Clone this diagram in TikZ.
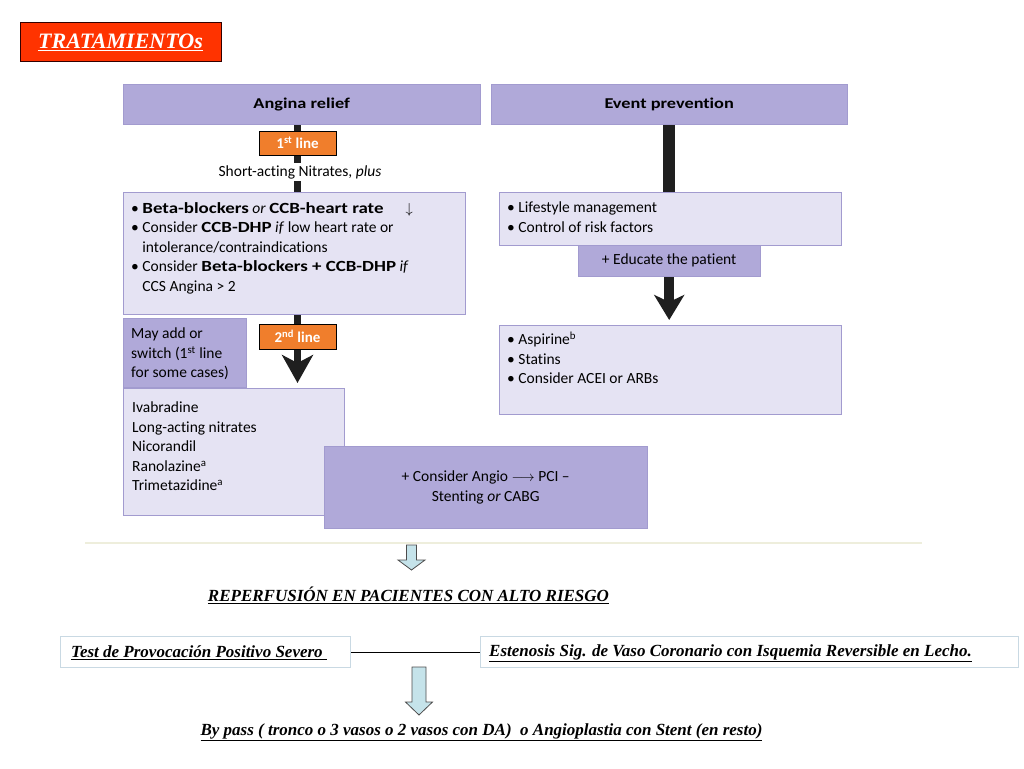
\documentclass[tikz,border=0pt]{standalone}
\usepackage{fontspec}
\setmainfont{Carlito}[Ligatures=CommonOff, BoldFeatures={FakeStretch=1.22}]
\newfontfamily\lbfont{Carlito}
\newfontfamily\timesfont{Liberation Serif}
\usetikzlibrary{positioning}
\usetikzlibrary{arrows.meta}
\usetikzlibrary{backgrounds}
\definecolor{hdrpurple}{HTML}{B0A9D9}
\definecolor{lightpurple}{HTML}{E5E3F3}
\definecolor{edgepurple}{HTML}{A29BCF}
\definecolor{lineorange}{HTML}{F07E2C}
\definecolor{titlered}{HTML}{FF3300}
\definecolor{arrowblue}{HTML}{C5E3EA}
\definecolor{boxgray}{HTML}{C9D9E3}
\definecolor{rulebeige}{HTML}{EEEEDC}
\tikzset{
  hdr/.style={draw=edgepurple, fill=hdrpurple, anchor=north west, inner sep=0pt},
  panel/.style={draw=edgepurple, fill=lightpurple, anchor=north west, inner sep=0pt},
  linebox/.style={draw=black, fill=lineorange, text=white, minimum width=77pt,
    minimum height=24pt, inner sep=0pt, font=\lbfont\fontsize{15}{18}\selectfont\bfseries},
  txt/.style={font=\fontsize{15.5}{19.5}\selectfont, align=left, anchor=north west, inner sep=0pt},
  bar/.style={line width=7pt, black!88},
  fatarrow/.style={line width=7pt, black!88, -{Stealth[width=31pt,length=28pt,inset=8pt]}},
  hollow/.style={draw=black!70, fill=arrowblue, line width=0.8pt},
  test/.style={draw=boxgray, fill=white, anchor=north west, inner sep=0pt, line width=1pt},
  spanish/.style={font=\timesfont\fontsize{17}{20}\selectfont\bfseries\itshape, inner sep=0pt}
}
\begin{document}
\begin{tikzpicture}[x=1pt, y=-1pt]
  \useasboundingbox (0,0) rectangle (1024,768);
  \node[draw=black!80!red, fill=titlered, line width=1pt, minimum width=201pt, minimum height=38pt,
    text=white, font=\timesfont\fontsize{22}{24}\selectfont\bfseries\itshape] (titulo) at (120.5,42) {\underline{TRATAMIENTOs}\hspace{8pt}};

  \node[hdr, minimum width=357pt, minimum height=40pt, font=\fontsize{15}{18}\selectfont\bfseries] (angina) at (123,84) {Angina relief};
  \node[hdr, minimum width=356pt, minimum height=40pt, font=\fontsize{15}{18}\selectfont\bfseries] (prevent) at (491,84) {Event prevention};

  \node[linebox] (first) at (297.5,143) {1\textsuperscript{st} line};
  \node[fill=white, inner sep=2pt, font=\fontsize{15.5}{18}\selectfont] (nitr) at (300,172) {Short-acting Nitrates, \textit{plus}};
  \node[panel, minimum width=342pt, minimum height=122pt] (betabox) at (123,192) {};
  \node[txt] (betatxt) at (131,202) {%
    \textbullet\ \textbf{Beta-blockers} \textit{or} \textbf{CCB-heart rate}\hspace{22pt}$\downarrow$\\
    \textbullet\ Consider \textbf{CCB-DHP} \textit{if} low heart rate or\\
    \phantom{\textbullet\ }intolerance/contraindications\\
    \textbullet\ Consider \textbf{Beta-blockers + CCB-DHP} \textit{if}\\
    \phantom{\textbullet\ }CCS Angina > 2};

  \node[linebox, minimum height=25pt] (second) at (297.5,336.5) {2\textsuperscript{nd} line};
  \node[hdr, minimum width=123pt, minimum height=69pt] (mayadd) at (123,318) {};
  \node[txt] (maytxt) at (131,328) {May add or\\switch (1\textsuperscript{st} line\\for some cases)};
  \node[panel, minimum width=221pt, minimum height=127pt] (ivabox) at (123,388) {};
  \node[txt] (ivatxt) at (132,402) {Ivabradine\\Long-acting nitrates\\Nicorandil\\Ranolazine\textsuperscript{a}\\Trimetazidine\textsuperscript{a}};
  \node[hdr, minimum width=323pt, minimum height=82pt, align=center, font=\fontsize{15.5}{19.5}\selectfont] (angio) at (324,446)
    {+ Consider Angio $\longrightarrow$ PCI --\\Stenting \textit{or} CABG};

  \node[panel, minimum width=342pt, minimum height=53pt] (lifebox) at (499,192) {};
  \node[txt] (lifetxt) at (507,202) {\textbullet\ Lifestyle management\\\textbullet\ Control of risk factors};
  \node[hdr, minimum width=182pt, minimum height=31pt, font=\fontsize{15.5}{18}\selectfont] (educ) at (578,245) {+ Educate the patient};
  \node[panel, minimum width=342pt, minimum height=89pt] (aspbox) at (499,325) {};
  \node[txt] (asptxt) at (507,332) {\textbullet\ Aspirine\textsuperscript{b}\\\textbullet\ Statins\\\textbullet\ Consider ACEI or ARBs};

  \begin{scope}[on background layer]
    \draw[bar] (first.north |- angina.south) -- (first.north |- betabox.north);
    \draw[fatarrow] (second.north |- betabox.south) -- ([yshift=5pt]second.north |- ivabox.north);
    \draw[bar, line width=12pt] (prevent.south) -- (prevent.south |- lifebox.north);
    \draw[fatarrow, line width=10pt, -{Stealth[width=30pt,length=25pt,inset=7pt]}] (educ.south) -- ([yshift=5pt]educ.south |- aspbox.north);
  \end{scope}

  \draw[rulebeige, line width=2pt] (85,543) -- (922,543);
  \coordinate (b1) at (411.5,545);
  \draw[hollow] ([xshift=-5pt]b1) -- ++(0,15) -- ++(-8.5,0) -- ++(13.5,10) -- ++(13.5,-10) -- ++(-8.5,0) -- ++(0,-15) -- cycle;
  \node[spanish] (reperf) at (408.5,595) {\underline{REPERFUSIÓN EN PACIENTES CON ALTO RIESGO}};

  \node[test, minimum width=290pt, minimum height=31pt] (testbox) at (60,636) {};
  \node[spanish, anchor=west] (testtxt) at (71,653) {\underline{Test de Provocación Positivo Severo\ }};
  \node[test, minimum width=538pt, minimum height=31pt] (estbox) at (480,636) {};
  \node[spanish, anchor=west] (esttxt) at (489,653) {\underline{Estenosis Sig. de Vaso Coronario con Isquemia Reversible en Lecho.}};
  \draw[line width=1pt] (testbox.east) -- (estbox.west);

  \coordinate (b2) at (419,667);
  \draw[hollow] ([xshift=-7pt]b2) -- ++(0,35) -- ++(-6.5,0) -- ++(13.5,13) -- ++(13.5,-13) -- ++(-6.5,0) -- ++(0,-35) -- cycle;
  \node[spanish] (bypass) at (481.5,732) {\underline{By pass ( tronco o 3 vasos o 2 vasos con DA)\ \ o Angioplastia con Stent (en resto)}};
\end{tikzpicture}
\end{document}
